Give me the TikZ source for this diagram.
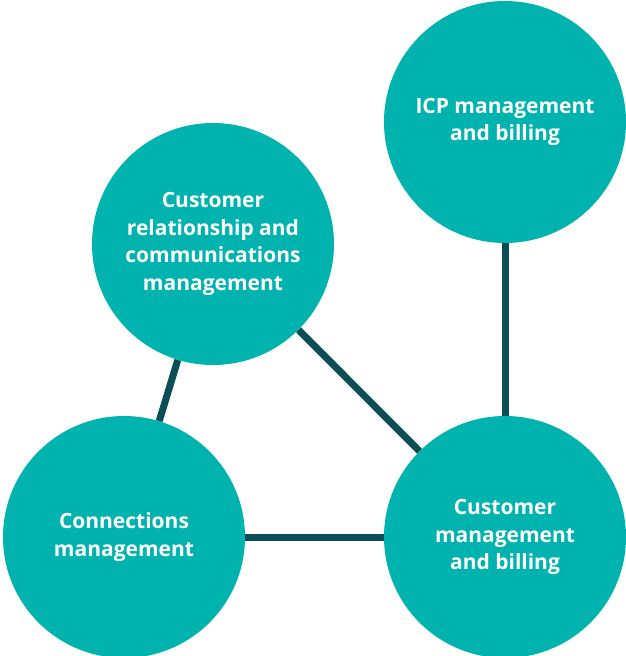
\documentclass[tikz,border=0pt]{standalone}
\usepackage{fontspec}
\setmainfont{Open Sans}[UprightFont=* Bold]
\definecolor{teal1}{HTML}{00B3AE}
\definecolor{dark1}{HTML}{0B4E55}
\begin{document}
\begin{tikzpicture}[x=1pt,y=-1pt,
  bubble/.style={circle,fill=teal1,minimum size=242pt,inner sep=0pt,text=white,
    align=center,font=\fontsize{21}{27.5}\selectfont},
  link/.style={draw=dark1,line width=7pt}]
\useasboundingbox (0,0) rectangle (625,656);
\node[bubble] (icp) at (505,122) {ICP management\\and billing};
\node[bubble] (crm) at (213,244) {Customer\\relationship and\\communications\\management};
\node[bubble] (con) at (124,537) {Connections\\management};
\node[bubble] (cmb) at (505,537) {Customer\\management\\and billing};
\draw[link] (icp) -- (cmb);
\draw[link] (crm) -- (con);
\draw[link] (crm) -- (cmb);
\draw[link] (con) -- (cmb);
\end{tikzpicture}
\end{document}
